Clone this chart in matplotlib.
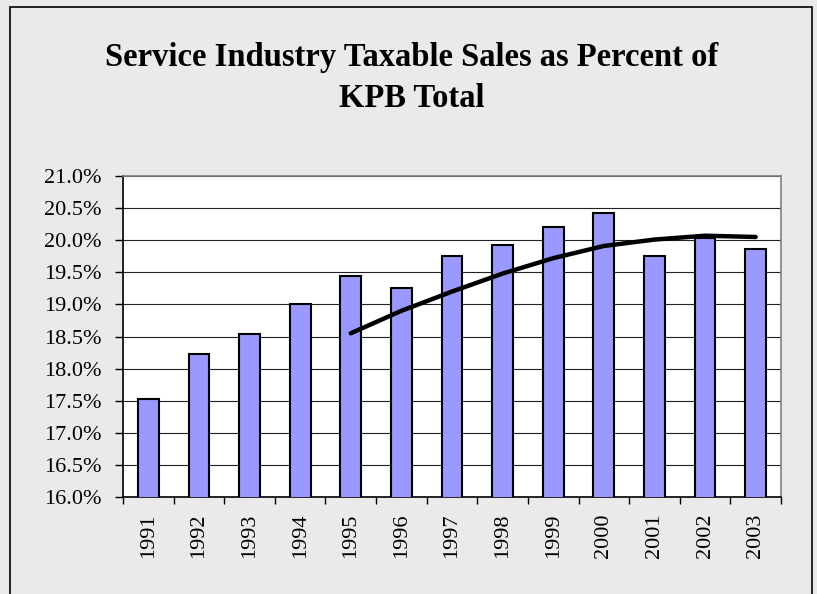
import matplotlib.pyplot as plt
import matplotlib.ticker as mticker
from matplotlib.patches import Rectangle

years = [1991, 1992, 1993, 1994, 1995, 1996, 1997, 1998, 1999, 2000, 2001, 2002, 2003]
share = [17.53, 18.23, 18.54, 19.01, 19.45, 19.25, 19.75, 19.93, 20.20, 20.42, 19.76, 20.03, 19.86]

# trend line (5-year moving average), 1995-2003
trend_years = [1995, 1996, 1997, 1998, 1999, 2000, 2001, 2002, 2003]
trend = [18.55, 18.90, 19.20, 19.48, 19.72, 19.91, 20.01, 20.07, 20.05]

title = "Service Industry Taxable Sales as Percent of\nKPB Total"

plt.rcParams["font.family"] = ["Liberation Serif", "DejaVu Serif"]

W, H = 817, 594
fig = plt.figure(figsize=(W / 100, H / 100), dpi=100)
fig.patch.set_facecolor("#eaeaea")

# outer chart border (bottom edge is cut off in the original)
fig.patches.append(Rectangle((10 / W, -0.05), 802 / W, 1.05 - 7 / H,
                             transform=fig.transFigure, fill=False,
                             edgecolor="black", linewidth=1.2))

ax = fig.add_axes([123 / W, 1 - 497 / H, (781 - 123) / W, (497 - 176) / H])
ax.set_facecolor("white")

x = list(range(len(years)))
ax.bar(x, share, width=0.41, color="#9999ff", edgecolor="black", linewidth=1.5, zorder=3)

tx = [years.index(y) for y in trend_years]
ax.plot(tx, trend, color="black", linewidth=3.2, solid_capstyle="round",
        solid_joinstyle="round", zorder=4)

ax.set_ylim(16.0, 21.0)
ax.set_xlim(-0.5, len(years) - 0.5)
ax.yaxis.set_major_locator(mticker.MultipleLocator(0.5))
ax.yaxis.set_major_formatter(mticker.FuncFormatter(lambda v, p: f"{v:.1f}%"))
ax.grid(axis="y", color="#222222", linewidth=0.8, zorder=1)

ax.set_xticks(x)
ax.set_xticklabels([str(y) for y in years], rotation=90)
ax.set_xticks([i - 0.5 for i in range(len(years) + 1)], minor=True)
ax.tick_params(axis="x", which="major", length=0, pad=12, labelsize=16)
ax.tick_params(axis="x", which="minor", length=5, width=1, direction="out")
ax.tick_params(axis="y", length=5.8, width=1, direction="out", labelsize=16, pad=9.4)

for s in ["left", "bottom"]:
    ax.spines[s].set_color("black")
    ax.spines[s].set_linewidth(1.2)
for s in ["top", "right"]:
    ax.spines[s].set_color("#808080")
    ax.spines[s].set_linewidth(1.2)

fig.text(412 / W, 1 - 78 / H, title, ha="center", va="center", fontsize=23.5,
         fontweight="bold", linespacing=1.45)

fig.savefig("out.png", dpi=100, facecolor=fig.get_facecolor())
